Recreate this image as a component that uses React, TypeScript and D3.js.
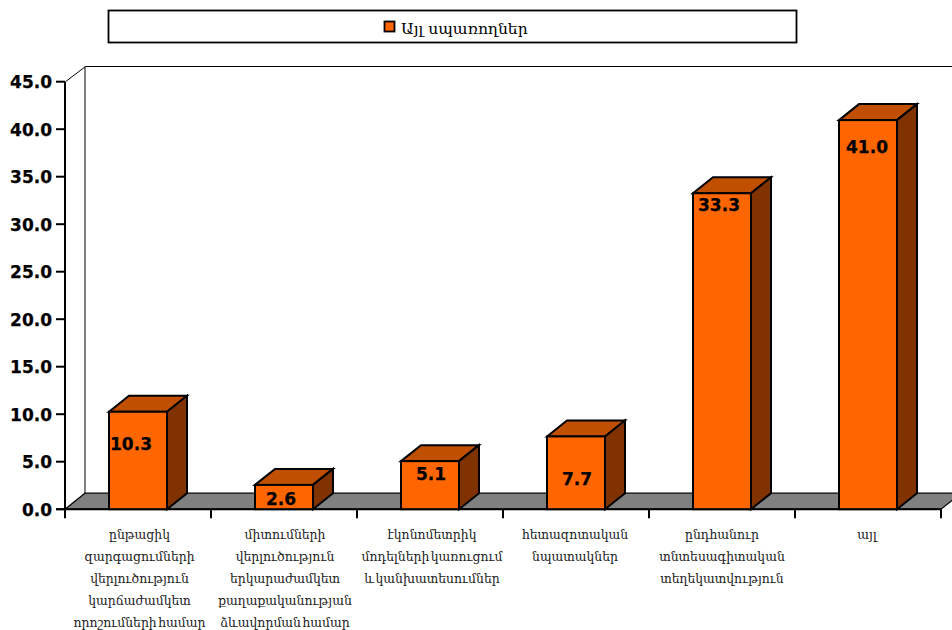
import React from "react";
import * as d3 from "d3";

const seriesName = "Այլ սպառողներ";
const categories: string[][] = [
  ["ընթացիկ", "զարգացումների", "վերլուծություն", "կարճաժամկետ", "որոշումների համար"],
  ["միտումների", "վերլուծություն", "երկարաժամկետ", "քաղաքականության", "ձևավորման համար"],
  ["էկոնոմետրիկ", "մոդելների կառուցում", "և կանխատեսումներ"],
  ["հետազոտական", "նպատակներ"],
  ["ընդհանուր", "տնտեսագիտական", "տեղեկատվություն"],
  ["այլ"],
];
const values = [10.3, 2.6, 5.1, 7.7, 33.3, 41.0];
const yTicks = [0, 5, 10, 15, 20, 25, 30, 35, 40, 45];
const labelDx = [-7, -3, 1, 1, -3, -1];
const labelDy = [32, 13, 12.7, 41.7, 11, 26];
const categoryDx = [1.5, 1, 2, -1, 0, -1];

const FRONT = "#ff6600";
const TOP = "#c05000";
const SIDE = "#803300";
const FLOOR = "#808080";
const DX = 20;
const DY = 16;
const SANS = "'DejaVu Sans', sans-serif";
const ARM = "'DejaVu Serif', serif";

export default function App() {
  const y = d3.scaleLinear().domain([0, 45]).range([509.2, 81.7]);
  const band = d3.scaleBand<number>().domain(d3.range(values.length)).range([65, 941]);
  const barW = 58;
  const y0 = y(0);
  return (
    <svg width={952} height={630} style={{ position: "absolute", left: 0, top: 0, background: "#fff" }}>
      {/* legend */}
      <rect x={108.5} y={10.5} width={688} height={32} fill="#fff" stroke="#000" strokeWidth={1.8} />
      <rect x={384.5} y={21.5} width={10} height={10} fill={FRONT} stroke="#000" strokeWidth={1.8} />
      <text x={401} y={34} fontFamily={ARM} fontSize={15.6} fill="#000">{seriesName}</text>

      {/* back wall and floor */}
      <path d={`M65.5 ${y(45)}L${65.5 + DX} 66.5H952`} fill="none" stroke="#000" strokeWidth={1} />
      <line x1={85} x2={85} y1={66.5} y2={y0 - DY} stroke="#000" strokeWidth={1} />
      <path d={`M65 ${y0}L${65 + DX} ${y0 - DY}H${941 + DX}L941 ${y0}Z`} fill={FLOOR} stroke="#000" strokeWidth={1.2} />

      {/* axes */}
      <line x1={65} x2={65} y1={y(45)} y2={y0} stroke="#000" strokeWidth={2} />
      <line x1={56} x2={941} y1={y0} y2={y0} stroke="#000" strokeWidth={2} />
      {yTicks.map((t) => (
        <g key={t}>
          <line x1={56} x2={65} y1={y(t)} y2={y(t)} stroke="#000" strokeWidth={2} />
          <text x={52} y={y(t) + 6.5} textAnchor="end" fontFamily={SANS} fontWeight={700} fontSize={17} stroke="#000" strokeWidth={0.25} fill="#000">{t.toFixed(1)}</text>
        </g>
      ))}
      {d3.range(values.length + 1).map((i) => {
        const tx = 65 + i * band.step();
        return <line key={i} x1={tx} x2={tx} y1={y0} y2={y0 + 9} stroke="#000" strokeWidth={2} />;
      })}

      {/* bars */}
      {values.map((v, i) => {
        const bx = band(i)! + 44;
        const top = y(v) + 0.4;
        return (
          <g key={i} stroke="#000" strokeWidth={2} strokeLinejoin="miter">
            <path d={`M${bx} ${top}l${DX} ${-DY}h${barW}l${-DX} ${DY}Z`} fill={TOP} />
            <path d={`M${bx + barW} ${top}l${DX} ${-DY}V${y0 - DY}L${bx + barW} ${y0}Z`} fill={SIDE} />
            <rect x={bx} y={top} width={barW} height={y0 - top} fill={FRONT} />
          </g>
        );
      })}
      {values.map((v, i) => (
        <text key={i} x={band(i)! + 73 + labelDx[i]} y={y(v) + labelDy[i] + 7} textAnchor="middle" fontFamily={SANS} fontWeight={700} fontSize={17} stroke="#000" strokeWidth={0.25} fill="#000">
          {v.toFixed(1)}
        </text>
      ))}

      {/* category labels */}
      {categories.map((lines, i) => (
        <g key={i}>
          {lines.map((l, j) => (
            <text key={j} x={band(i)! + 73 + categoryDx[i]} y={539 + j * 22} textAnchor="middle" fontFamily={ARM} fontSize={12.4} wordSpacing={-2.5} fill="#222">{l}</text>
          ))}
        </g>
      ))}
    </svg>
  );
}
